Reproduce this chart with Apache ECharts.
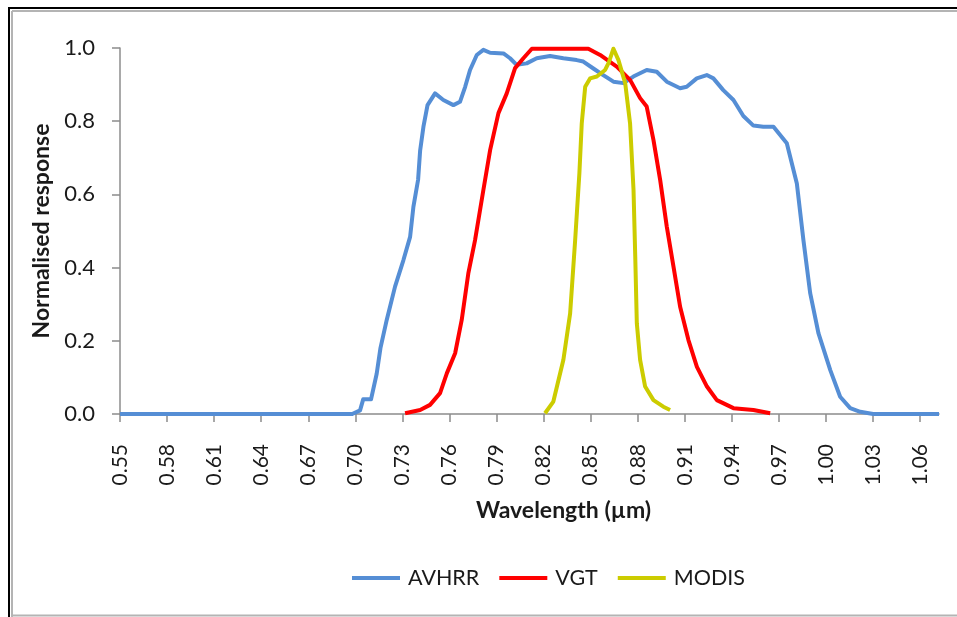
<!DOCTYPE html>
<html>
<head>
<meta charset="utf-8">
<title>Spectral response</title>
<script src="https://cdn.jsdelivr.net/npm/echarts@6/dist/echarts.min.js"></script>
<style>
html,body{margin:0;padding:0;background:#fff;}
#chart{width:957px;height:617px;}
</style>
</head>
<body>
<div id="chart"></div>
<script type="text/javascript">
// wavelength ticks (um)
var tickLabels = [0.55, 0.58, 0.61, 0.64, 0.67, 0.70, 0.73, 0.76, 0.79, 0.82, 0.85, 0.88, 0.91, 0.94, 0.97, 1.00, 1.03, 1.06];

var avhrrX = [0.550, 0.698, 0.703, 0.705, 0.710, 0.7136, 0.716, 0.720, 0.7253, 0.7306, 0.7349, 0.737, 0.740, 0.7413, 0.7434, 0.746, 0.7508, 0.7561, 0.7625, 0.7667, 0.770, 0.7731, 0.7774, 0.7816, 0.7859, 0.7944, 0.7986, 0.8028, 0.8092, 0.8156, 0.8241, 0.8326, 0.8411, 0.8453, 0.8517, 0.858, 0.8645, 0.8709, 0.8772, 0.8857, 0.8921, 0.8985, 0.907, 0.9112, 0.9176, 0.924, 0.9282, 0.9345, 0.941, 0.9473, 0.9537, 0.960, 0.9665, 0.975, 0.9814, 0.9856, 0.9899, 0.9952, 1.0027, 1.009, 1.0154, 1.0218, 1.030, 1.072];
var avhrrY = [0, 0, 0.01, 0.04, 0.04, 0.11, 0.18, 0.257, 0.348, 0.42, 0.484, 0.566, 0.64, 0.72, 0.785, 0.844, 0.876, 0.858, 0.844, 0.853, 0.894, 0.94, 0.981, 0.995, 0.987, 0.985, 0.972, 0.954, 0.958, 0.972, 0.978, 0.972, 0.967, 0.963, 0.944, 0.926, 0.908, 0.904, 0.922, 0.94, 0.935, 0.908, 0.89, 0.894, 0.917, 0.926, 0.917, 0.885, 0.858, 0.814, 0.788, 0.785, 0.785, 0.74, 0.63, 0.475, 0.33, 0.22, 0.12, 0.047, 0.016, 0.006, 0, 0];

var vgtX = [0.7317, 0.7413, 0.7476, 0.754, 0.7583, 0.7636, 0.7678, 0.772, 0.7763, 0.7816, 0.7859, 0.7912, 0.7965, 0.8018, 0.8071, 0.8125, 0.8485, 0.856, 0.8666, 0.8751, 0.8815, 0.8857, 0.890, 0.8943, 0.8985, 0.9028, 0.907, 0.9123, 0.9177, 0.9241, 0.9304, 0.941, 0.9537, 0.9644];
var vgtY = [0.002, 0.011, 0.025, 0.057, 0.111, 0.166, 0.257, 0.384, 0.475, 0.612, 0.721, 0.822, 0.876, 0.945, 0.972, 0.998, 0.998, 0.981, 0.949, 0.913, 0.863, 0.84, 0.749, 0.639, 0.512, 0.402, 0.293, 0.202, 0.129, 0.075, 0.038, 0.016, 0.011, 0.002];

var modisX = [0.8209, 0.8262, 0.8326, 0.8369, 0.8401, 0.8428, 0.8443, 0.8465, 0.8496, 0.8539, 0.8592, 0.8615, 0.8645, 0.8677, 0.872, 0.8751, 0.8773, 0.8784, 0.8794, 0.8815, 0.8847, 0.890, 0.8963, 0.9006];
var modisY = [0.002, 0.034, 0.148, 0.275, 0.475, 0.658, 0.794, 0.894, 0.917, 0.922, 0.94, 0.96, 0.998, 0.967, 0.904, 0.794, 0.612, 0.43, 0.248, 0.148, 0.075, 0.038, 0.02, 0.011];

function pairs(xs, ys) {
    var out = [];
    for (var i = 0; i < xs.length; i++) out.push([xs[i], ys[i]]);
    return out;
}

var font = 'Lato, "Liberation Sans", sans-serif';
var axisGray = '#8c8c8c';
var textColor = '#1a1a1a';

var chart = echarts.init(document.getElementById('chart'), null, {renderer: 'canvas'});
var option = {
    backgroundColor: '#fff',
    animation: false,
    color: ['#558ED5', '#FF0000', '#CCCC00'],
    textStyle: {fontFamily: font, color: textColor},
    grid: {left: 120, top: 48, right: 18, bottom: 203, containLabel: false},
    legend: {
        left: 352,
        top: 567,
        padding: 0,
        icon: 'rect',
        itemWidth: 48,
        itemHeight: 4,
        itemGap: 20,
        textStyle: {fontFamily: font, fontSize: 21.5, color: textColor, padding: [0, 0, 0, 3]},
        data: ['AVHRR', 'VGT', 'MODIS']
    },
    xAxis: {
        type: 'value',
        min: 0.55,
        max: 1.072,
        name: 'Wavelength (µm)',
        nameLocation: 'middle',
        nameGap: 85,
        nameTextStyle: {fontFamily: font, fontSize: 23, fontWeight: 'bold', color: textColor, padding: [0, 0, 0, 68], verticalAlign: 'top'},
        splitLine: {show: false},
        axisLine: {show: true, onZero: false, lineStyle: {color: axisGray, width: 1.5}},
        axisTick: {show: true, length: 8, customValues: tickLabels, lineStyle: {color: axisGray, width: 1.5}},
        axisLabel: {
            customValues: tickLabels,
            rotate: 90,
            margin: 30,
            fontFamily: font,
            fontSize: 21,
            color: textColor,
            formatter: function (v) { return v.toFixed(2); }
        }
    },
    yAxis: {
        type: 'value',
        min: 0,
        max: 1,
        interval: 0.2,
        name: 'Normalised response',
        nameLocation: 'middle',
        nameRotate: 90,
        nameGap: 60,
        nameTextStyle: {fontFamily: font, fontSize: 23, fontWeight: 'bold', color: textColor},
        splitLine: {show: false},
        axisLine: {show: true, lineStyle: {color: axisGray, width: 1.5}},
        axisTick: {show: true, length: 8, lineStyle: {color: axisGray, width: 1.5}},
        axisLabel: {
            margin: 25,
            fontFamily: font,
            fontSize: 22,
            color: textColor,
            formatter: function (v) { return v.toFixed(1); }
        }
    },
    series: [
        {name: 'AVHRR', type: 'line', data: pairs(avhrrX, avhrrY), showSymbol: false, lineStyle: {width: 4, join: 'round'}, z: 2},
        {name: 'VGT', type: 'line', data: pairs(vgtX, vgtY), showSymbol: false, lineStyle: {width: 4, join: 'round'}, z: 3},
        {name: 'MODIS', type: 'line', data: pairs(modisX, modisY), showSymbol: false, lineStyle: {width: 4, join: 'round'}, z: 4}
    ],
    graphic: [
        {type: 'line', shape: {x1: 9, y1: 8, x2: 957, y2: 8}, style: {stroke: '#000', lineWidth: 2}, silent: true},
        {type: 'line', shape: {x1: 9, y1: 7, x2: 9, y2: 617}, style: {stroke: '#000', lineWidth: 2}, silent: true},
        {type: 'line', shape: {x1: 12, y1: 11, x2: 957, y2: 11}, style: {stroke: '#b4b4b4', lineWidth: 2}, silent: true},
        {type: 'line', shape: {x1: 12, y1: 11, x2: 12, y2: 617}, style: {stroke: '#b4b4b4', lineWidth: 2}, silent: true},
        {type: 'line', shape: {x1: 12, y1: 615.5, x2: 957, y2: 615.5}, style: {stroke: '#b4b4b4', lineWidth: 2}, silent: true}
    ]
};
chart.setOption(option);
</script>
</body>
</html>
